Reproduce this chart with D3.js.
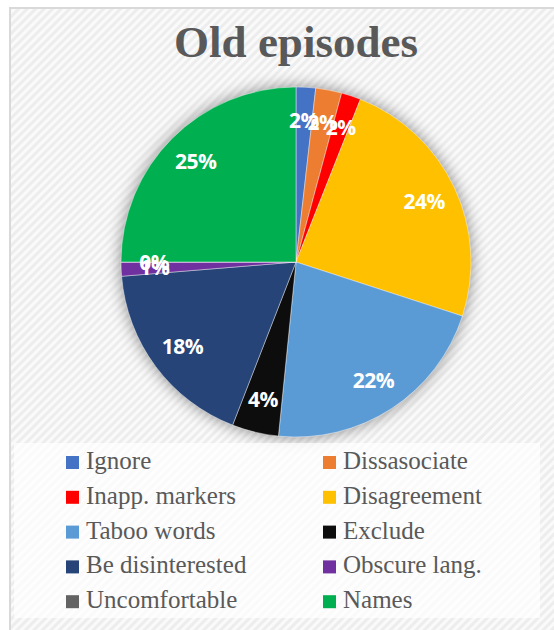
<!DOCTYPE html>
<html>
<head>
    <meta charset="utf-8">
    <script src="https://d3js.org/d3.v7.min.js"></script>
    <style>
        body { margin: 0; background: #fff; }
    </style>
</head>
<body>
    <svg id="chart" width="554" height="630"></svg>

    <script>
        // Data (percent of all old episodes)
        const categories = ["Ignore", "Dissasociate", "Inapp. markers", "Disagreement", "Taboo words",
                            "Exclude", "Be disinterested", "Obscure lang.", "Uncomfortable", "Names"];
        const values = [1.8, 2.4, 1.8, 24, 21.6, 4.3, 17.8, 1.3, 0, 25];
        const colors = ["#4472C4", "#ED7D31", "#FF0000", "#FFC000", "#5B9BD5",
                        "#0D0D0D", "#264478", "#7030A0", "#636363", "#00B050"];

        const svg = d3.select("#chart"),
            width = +svg.attr("width"),
            height = +svg.attr("height");

        const defs = svg.append("defs");

        // diagonal texture of the chart area
        const pat = defs.append("pattern")
            .attr("id", "hatch")
            .attr("patternUnits", "userSpaceOnUse")
            .attr("width", 6).attr("height", 6)
            .attr("patternTransform", "rotate(45)");
        pat.append("rect").attr("width", 6).attr("height", 6).attr("fill", "#fafafa");
        pat.append("rect").attr("width", 3).attr("height", 6).attr("fill", "#ededed");

        // soft shadow behind the pie
        const shadow = defs.append("filter")
            .attr("id", "glow")
            .attr("x", "-20%").attr("y", "-20%")
            .attr("width", "140%").attr("height", "140%");
        shadow.append("feGaussianBlur").attr("in", "SourceAlpha").attr("stdDeviation", 8).attr("result", "blur");
        shadow.append("feFlood").attr("flood-color", "#000").attr("flood-opacity", 0.45);
        shadow.append("feComposite").attr("in2", "blur").attr("operator", "in");

        // chart area with its border
        svg.append("rect")
            .attr("x", 10).attr("y", 8)
            .attr("width", width).attr("height", height)
            .attr("fill", "url(#hatch)")
            .attr("stroke", "#d9d9d9")
            .attr("stroke-width", 2);

        // title
        svg.append("text")
            .attr("x", 296).attr("y", 57)
            .attr("text-anchor", "middle")
            .style("font-family", "'Liberation Serif', 'Times New Roman', serif")
            .style("font-weight", "bold")
            .style("font-size", "45px")
            .style("fill", "#595959")
            .text("Old episodes");

        // pie
        const cx = 296, cy = 262, radius = 175;
        const data = categories.map((c, i) => ({ name: c, value: values[i], color: colors[i] }));

        const pie = d3.pie().sort(null).value(d => d.value);
        const arcs = pie(data);
        const arc = d3.arc().innerRadius(0).outerRadius(radius);
        const labelArc = d3.arc().innerRadius(radius * 0.81).outerRadius(radius * 0.81);

        const g = svg.append("g").attr("transform", `translate(${cx},${cy})`);

        g.append("circle")
            .attr("r", radius)
            .attr("fill", "#000")
            .attr("filter", "url(#glow)");

        g.selectAll("path")
            .data(arcs)
            .join("path")
                .attr("d", arc)
                .attr("fill", d => d.data.color)
                .attr("stroke", "#fff")
                .attr("stroke-opacity", 0.6)
                .attr("stroke-width", 0.7);

        g.selectAll("text")
            .data(arcs)
            .join("text")
                .attr("transform", d => `translate(${labelArc.centroid(d)})`)
                .attr("text-anchor", "middle")
                .attr("dy", "0.36em")
                .style("font-family", "'Open Sans', sans-serif")
                .style("font-weight", "bold")
                .style("font-size", "21px")
                .style("letter-spacing", "-0.5px")
                .style("fill", "#fff")
                .text(d => Math.round(d.data.value) + "%");

        // legend
        svg.append("rect")
            .attr("x", 14).attr("y", 443)
            .attr("width", 526).attr("height", 175)
            .attr("fill", "#fff")
            .attr("fill-opacity", 0.7);

        const colX = [66, 323], rowY = 469, rowStep = 34.8;

        const legend = svg.append("g")
            .selectAll("g")
            .data(data)
            .join("g")
                .attr("transform", (d, i) => `translate(${colX[i % 2]},${rowY + Math.floor(i / 2) * rowStep})`);

        legend.append("rect")
            .attr("x", 0).attr("y", -13)
            .attr("width", 13).attr("height", 13)
            .attr("fill", d => d.color);

        legend.append("text")
            .attr("x", 20).attr("y", 0)
            .style("font-family", "'Liberation Serif', 'Times New Roman', serif")
            .style("font-size", "25px")
            .style("fill", "#595959")
            .text(d => d.name);
    </script>
</body>
</html>
